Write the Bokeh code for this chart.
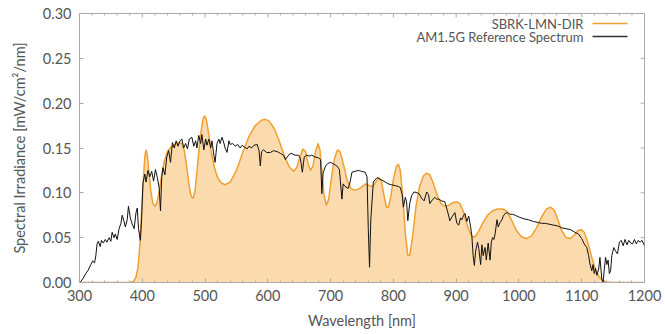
import math
from bokeh.plotting import figure
from bokeh.models import (LinearAxis, FixedTicker, Range1d, Label, BoxAnnotation,
                          NumeralTickFormatter, ColumnDataSource)
from bokeh.embed import file_html
from bokeh.resources import INLINE

# ---- data ----
sbrk_wl = [300, 380, 386, 390, 393, 396, 399, 402, 404, 406, 408, 411, 414, 417, 420, 423,
           427, 431, 435, 440, 446, 452, 458, 463, 467, 471, 475, 478, 481, 484, 488, 492,
           496, 499, 502, 506, 510, 515, 520, 526, 532, 540, 550, 560, 570, 580, 590, 596,
           602, 610, 618, 626, 634, 641, 646, 651, 656, 660, 664, 668, 672, 676, 680, 683,
           686, 689, 693, 697, 701, 706, 711, 715, 720, 726, 732, 738, 744, 750, 756, 762,
           767, 772, 777, 781, 785, 789, 792, 796, 800, 805, 808, 811, 815, 819, 823, 826,
           830, 836, 842, 848, 853, 858, 864, 870, 876, 882, 888, 895, 901, 906, 911, 916,
           921, 926, 930, 936, 942, 950, 958, 966, 974, 980, 988, 996, 1004, 1012, 1020,
           1028, 1036, 1044, 1050, 1056, 1062, 1068, 1075, 1082, 1088, 1094, 1099, 1104,
           1110, 1116, 1122, 1128, 1134, 1140, 1150, 1200]
sbrk_irr = [0, 0, 0.001, 0.006, 0.016, 0.040, 0.080, 0.118, 0.140, 0.148, 0.142, 0.120,
            0.100, 0.088, 0.085, 0.088, 0.102, 0.120, 0.135, 0.146, 0.151, 0.154, 0.156,
            0.155, 0.147, 0.128, 0.106, 0.096, 0.094, 0.102, 0.130, 0.160, 0.180, 0.186,
            0.182, 0.165, 0.145, 0.128, 0.117, 0.111, 0.109, 0.112, 0.125, 0.145, 0.163,
            0.175, 0.181, 0.182, 0.180, 0.172, 0.158, 0.142, 0.129, 0.124, 0.128, 0.140,
            0.149, 0.146, 0.133, 0.125, 0.130, 0.146, 0.155, 0.148, 0.125, 0.100, 0.086,
            0.093, 0.115, 0.138, 0.148, 0.146, 0.133, 0.115, 0.105, 0.103, 0.104, 0.107,
            0.110, 0.108, 0.107, 0.112, 0.117, 0.113, 0.097, 0.084, 0.084, 0.096, 0.115,
            0.130, 0.132, 0.125, 0.095, 0.055, 0.030, 0.030, 0.048, 0.085, 0.108, 0.119,
            0.122, 0.120, 0.110, 0.097, 0.088, 0.085, 0.086, 0.089, 0.090, 0.088, 0.080,
            0.068, 0.057, 0.051, 0.051, 0.057, 0.066, 0.075, 0.080, 0.082, 0.082, 0.080,
            0.070, 0.058, 0.051, 0.049, 0.052, 0.061, 0.073, 0.082, 0.084, 0.081, 0.070,
            0.058, 0.050, 0.049, 0.053, 0.058, 0.059, 0.056, 0.044, 0.028, 0.014, 0.006,
            0.002, 0.0005, 0, 0]

am15_wl = [300, 302, 306, 310, 314, 318, 321, 324, 326, 328, 330, 333, 335, 338, 341, 344,
           347, 350, 352, 355, 357, 360, 363, 366, 368, 371, 373, 376, 378, 381, 384, 387,
           390, 392, 394, 397, 399, 401, 404, 406, 409, 412, 415, 418, 421, 424, 427, 429,
           431, 433, 436, 439, 442, 445, 448, 451, 454, 457, 460, 463, 466, 469, 472, 475,
           479, 482, 485, 487, 490, 493, 495, 498, 501, 503, 506, 509, 511, 514, 516, 519,
           522, 524, 527, 529, 532, 535, 538, 540, 544, 548, 552, 556, 559, 563, 567, 570,
           574, 578, 583, 586, 588, 590, 593, 598, 604, 609, 615, 620, 625, 628, 630, 634,
           638, 643, 649, 652, 655, 658, 662, 666, 670, 675, 681, 684, 686, 688, 692, 696,
           700, 705, 710, 714, 718, 720, 723, 728, 731, 734, 739, 744, 749, 755, 758, 760,
           762, 764, 768, 774, 782, 787, 792, 797, 803, 808, 811, 814, 816, 819, 821, 823,
           826, 829, 833, 838, 841, 845, 849, 853, 856, 858, 862, 866, 869, 872, 877, 882,
           886, 890, 894, 898, 901, 904, 907, 909, 912, 914, 917, 920, 923, 925, 927, 929,
           931, 934, 936, 939, 941, 943, 946, 948, 951, 954, 956, 958, 960, 962, 965, 967,
           970, 973, 975, 978, 982, 986, 990, 994, 1000, 1008, 1015, 1023, 1030, 1036,
           1042, 1048, 1055, 1062, 1068, 1075, 1082, 1089, 1095, 1100, 1104, 1108, 1111,
           1113, 1116, 1118, 1120, 1122, 1124, 1127, 1129, 1132, 1134, 1136, 1138, 1140,
           1142, 1144, 1146, 1148, 1151, 1154, 1157, 1160, 1163, 1166, 1169, 1172, 1175,
           1178, 1181, 1184, 1187, 1190, 1193, 1196, 1200]
am15_irr = [0.000, 0.001, 0.005, 0.010, 0.014, 0.020, 0.024, 0.022, 0.030, 0.043, 0.046,
            0.040, 0.047, 0.044, 0.048, 0.045, 0.050, 0.046, 0.056, 0.050, 0.054, 0.048,
            0.060, 0.066, 0.075, 0.068, 0.062, 0.070, 0.085, 0.072, 0.065, 0.060, 0.078,
            0.083, 0.060, 0.047, 0.072, 0.110, 0.121, 0.112, 0.125, 0.118, 0.124, 0.113,
            0.126, 0.117, 0.105, 0.080, 0.118, 0.128, 0.120, 0.140, 0.147, 0.134, 0.156,
            0.150, 0.158, 0.152, 0.158, 0.160, 0.150, 0.155, 0.149, 0.160, 0.162, 0.152,
            0.158, 0.150, 0.164, 0.155, 0.165, 0.148, 0.160, 0.153, 0.160, 0.150, 0.158,
            0.142, 0.134, 0.155, 0.160, 0.155, 0.162, 0.158, 0.150, 0.145, 0.158, 0.154,
            0.155, 0.152, 0.154, 0.150, 0.153, 0.151, 0.149, 0.152, 0.150, 0.153, 0.154,
            0.147, 0.130, 0.146, 0.148, 0.145, 0.145, 0.147, 0.146, 0.144, 0.142, 0.137,
            0.139, 0.143, 0.144, 0.142, 0.142, 0.138, 0.123, 0.140, 0.142, 0.141, 0.142,
            0.140, 0.139, 0.137, 0.099, 0.122, 0.130, 0.133, 0.134, 0.132, 0.130, 0.126,
            0.093, 0.110, 0.107, 0.105, 0.112, 0.123, 0.124, 0.125, 0.124, 0.123, 0.118,
            0.060, 0.017, 0.070, 0.112, 0.117, 0.114, 0.112, 0.110, 0.109, 0.108, 0.107,
            0.106, 0.098, 0.084, 0.095, 0.090, 0.069, 0.088, 0.097, 0.101, 0.100, 0.099,
            0.094, 0.091, 0.101, 0.098, 0.088, 0.092, 0.095, 0.093, 0.093, 0.091, 0.090,
            0.080, 0.069, 0.074, 0.078, 0.066, 0.064, 0.072, 0.070, 0.075, 0.077, 0.068,
            0.074, 0.062, 0.052, 0.030, 0.019, 0.035, 0.045, 0.038, 0.020, 0.042, 0.030,
            0.039, 0.025, 0.044, 0.025, 0.045, 0.050, 0.048, 0.054, 0.070, 0.062, 0.067,
            0.070, 0.074, 0.077, 0.078, 0.076, 0.076, 0.075, 0.073, 0.071, 0.070, 0.068,
            0.067, 0.066, 0.066, 0.065, 0.064, 0.063, 0.061, 0.060, 0.059, 0.056, 0.054,
            0.049, 0.043, 0.039, 0.030, 0.021, 0.013, 0.020, 0.010, 0.016, 0.008, 0.015,
            0.028, 0.004, 0.000, 0.015, 0.028, 0.020, 0.025, 0.010, 0.013, 0.030, 0.039,
            0.035, 0.032, 0.045, 0.047, 0.041, 0.048, 0.042, 0.047, 0.044, 0.043, 0.048,
            0.043, 0.047, 0.045, 0.047, 0.041, 0.040]

x_ticks = [300, 400, 500, 600, 700, 800, 900, 1000, 1100, 1200]
x_minor = list(range(300, 1201, 20))
y_ticks = [0.0, 0.05, 0.10, 0.15, 0.20, 0.25, 0.30]

series_labels = ["SBRK-LMN-DIR", "AM1.5G Reference Spectrum"]

X_MIN, X_MAX = 300, 1200
Y_MIN, Y_MAX = 0.0, 0.30

# ---- style ----
FONT = "Lato"
TXT = "#555555"
ORANGE = "#f0a030"
BLACK = "#111111"
FILL = "#fbdbae"
FRAME = "#aaaaaa"

p = figure(width=665, height=334, output_backend="svg", toolbar_location=None,
           x_range=Range1d(X_MIN, X_MAX), y_range=Range1d(Y_MIN, Y_MAX),
           min_border_left=79, min_border_right=21, min_border_top=13,
           min_border_bottom=52, x_axis_location=None, y_axis_location=None)
p.background_fill_color = "white"
p.border_fill_color = "white"
p.outline_line_color = FRAME
p.outline_line_width = 1
p.grid.visible = False

src_s = ColumnDataSource(dict(x=sbrk_wl, y=sbrk_irr, y0=[0] * len(sbrk_wl)))
src_a = ColumnDataSource(dict(x=am15_wl, y=am15_irr))

p.varea(x="x", y1="y0", y2="y", source=src_s, fill_color=FILL, fill_alpha=1.0)
p.line(x="x", y="y", source=src_s, line_color=ORANGE, line_width=1.5)
p.line(x="x", y="y", source=src_a, line_color=BLACK, line_width=1.0)

# mirrored tick marks on top and right edges (half of each dash is clipped by the frame)
top_minor = [t for t in x_minor if t not in x_ticks]
p.scatter(x=x_ticks, y=[Y_MAX] * len(x_ticks), marker="dash", size=8,
          angle=math.pi / 2, line_color=FRAME, line_width=1)
p.scatter(x=top_minor, y=[Y_MAX] * len(top_minor), marker="dash", size=4,
          angle=math.pi / 2, line_color=FRAME, line_width=1)
p.scatter(x=[X_MAX] * len(y_ticks), y=y_ticks, marker="dash", size=8,
          line_color=FRAME, line_width=1)


def style_axis(ax):
    ax.axis_line_color = FRAME
    ax.major_tick_line_color = FRAME
    ax.minor_tick_line_color = FRAME
    ax.major_tick_in = 4
    ax.major_tick_out = 0
    ax.minor_tick_in = 2
    ax.minor_tick_out = 0
    ax.major_label_text_font = FONT
    ax.major_label_text_color = TXT
    ax.major_label_text_font_size = "14.5px"
    ax.axis_label_text_font = FONT
    ax.axis_label_text_color = TXT
    ax.axis_label_text_font_size = "14.5px"
    ax.axis_label_text_font_style = "normal"


xt = FixedTicker(ticks=x_ticks, minor_ticks=x_minor)
yt = FixedTicker(ticks=y_ticks, minor_ticks=[])

bottom = LinearAxis(ticker=xt, axis_label="Wavelength [nm]")
style_axis(bottom)
bottom.major_label_standoff = 7
bottom.axis_label_standoff = 8
p.add_layout(bottom, "below")

left = LinearAxis(ticker=yt, axis_label="Spectral Irradiance [mW/cm²/nm]",
                  formatter=NumeralTickFormatter(format="0.00"))
style_axis(left)
left.major_label_standoff = 8
left.axis_label_standoff = 12
p.add_layout(left, "left")

# legend (screen units relative to the frame): right-aligned text, line sample at right
for i, (txt, col) in enumerate(zip(series_labels, [ORANGE, "#333333"])):
    yc = 259 - 13 * i
    p.add_layout(Label(x=504, y=yc, x_units="screen", y_units="screen",
                       text=txt, text_align="right", text_baseline="middle",
                       text_font=FONT, text_color=TXT, text_font_size="13px"))
    p.add_layout(BoxAnnotation(left=513, right=548, bottom=yc - 0.75, top=yc + 0.75,
                               left_units="screen", right_units="screen",
                               bottom_units="screen", top_units="screen",
                               fill_color=col, fill_alpha=1.0, line_color=None))

open("out.html", "w").write(file_html(p, INLINE))
